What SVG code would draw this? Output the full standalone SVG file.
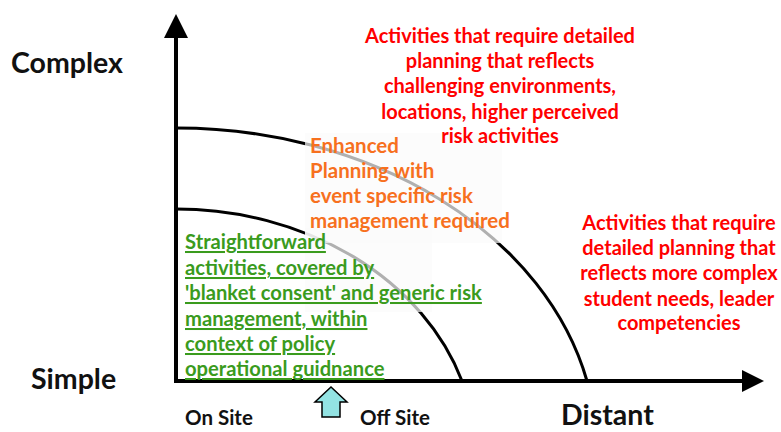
<svg xmlns="http://www.w3.org/2000/svg" width="781" height="432" viewBox="0 0 781 432">
<style>
text{font-family:Lato,"Liberation Sans",sans-serif;font-weight:bold}
.ax{font-size:28.5px;fill:#111}
.sm{font-size:20.5px;fill:#111}
.red{font-size:20px;fill:#ff0000;text-anchor:middle}
.org{font-size:20.5px;fill:#f7701e}
.grn{font-size:20.2px;fill:#3a9b1d;text-decoration:underline}
.arc{fill:none;stroke:#000;stroke-width:3}
.veil{fill:#fbfbfb;opacity:0.7}
</style>
<rect width="781" height="432" fill="#fff"/>
<g id="arcs">
<path class="arc" d="M176,128 A421,322 0 0 1 587,381"/>
<path class="arc" d="M176,209 A300,246 0 0 1 462,381"/>
</g>
<rect class="veil" x="305" y="133" width="197" height="110"/>
<rect class="veil" x="305" y="228" width="127" height="84"/>
<g id="axes">
<line x1="176" y1="383" x2="176" y2="36" stroke="#000" stroke-width="4"/>
<polygon points="176,14 164,38 188,38" fill="#000"/>
<line x1="174" y1="381" x2="745" y2="381" stroke="#000" stroke-width="4"/>
<polygon points="764,381 742,370 742,392" fill="#000"/>
</g>
<g id="labels">
<text class="ax" x="11" y="73">Complex</text>
<text class="ax" x="31" y="389">Simple</text>
<text class="ax" x="561" y="425">Distant</text>
<text class="sm" x="185" y="425">On Site</text>
<text class="sm" x="360" y="425">Off Site</text>
</g>
<g id="marker-arrow">
<polygon points="331,387 347,402 340,402 340,417 322,417 322,402 315,402" fill="#93e3e3" stroke="#000" stroke-width="1.5" stroke-linejoin="miter"/>
</g>
<g id="complex-env">
<text class="red" x="500" y="43">Activities that require detailed</text>
<text class="red" x="500" y="68">planning that reflects</text>
<text class="red" x="500" y="93">challenging environments,</text>
<text class="red" x="500" y="119">locations, higher perceived</text>
<text class="red" x="500" y="143">risk activities</text>
</g>
<g id="enhanced">
<text class="org" x="310" y="153">Enhanced</text>
<text class="org" x="310" y="178">Planning with</text>
<text class="org" x="310" y="203">event specific risk</text>
<text class="org" x="310" y="228">management required</text>
</g>
<g id="straightforward">
<text class="grn" x="185" y="249">Straightforward</text>
<text class="grn" x="185" y="275">activities, covered by</text>
<text class="grn" x="185" y="300">'blanket consent' and generic risk</text>
<text class="grn" x="185" y="326">management, within</text>
<text class="grn" x="185" y="351">context of policy</text>
<text class="grn" x="185" y="376">operational guidnance</text>
</g>
<g id="complex-needs">
<text class="red" x="679" y="230">Activities that require</text>
<text class="red" x="679" y="255">detailed planning that</text>
<text class="red" x="679" y="280">reflects more complex</text>
<text class="red" x="679" y="306">student needs, leader</text>
<text class="red" x="679" y="330">competencies</text>
</g>
</svg>
